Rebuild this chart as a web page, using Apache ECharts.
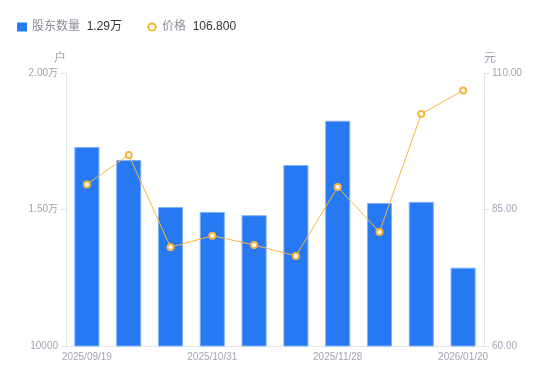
<!DOCTYPE html>
<html><head><meta charset="utf-8">
<script src="https://cdn.jsdelivr.net/npm/echarts@6/dist/echarts.min.js"></script>
<style>html,body{margin:0;padding:0;background:#fff}#c{width:550px;height:381px}</style>
</head><body><div id="c"></div>
<script>
const categories = ['2025/09/19','2025/09/30','2025/10/17','2025/10/31','2025/11/10','2025/11/20','2025/11/28','2025/12/10','2025/12/31','2026/01/20'];
const holders = [17290, 16810, 15090, 14910, 14790, 16630, 18250, 15240, 15280, 12870];
const prices = [89.6, 95.0, 78.1, 80.2, 78.5, 76.5, 89.1, 80.9, 102.5, 106.8];
const leftTicks = {min: 10000, max: 20000, interval: 5000};
const rightTicks = {min: 60, max: 110, interval: 25};

const FONT = '"Liberation Sans", "Noto Sans CJK SC", sans-serif';
const chart = echarts.init(document.getElementById('c'));
const fmtWan = v => v > 10000 ? (v/10000).toFixed(2) + '万' : String(v);
chart.setOption({
  animation: false,
  textStyle: {fontFamily: FONT},
  legend: {
    left: 12, top: 16,
    itemWidth: 10, itemHeight: 9, itemGap: 24,
    data: [{name: '股东数量', icon: 'rect', itemStyle: {borderWidth: 0}}, {name: '价格'}],
    formatter: name => name === '股东数量'
      ? '{a|股东数量}  {b|' + fmtWan(holders[holders.length-1]) + '}'
      : '{a|价格}  {b|' + prices[prices.length-1].toFixed(3) + '}',
    textStyle: {
      fontFamily: FONT,
      rich: {
        a: {color: '#8a8d99', fontSize: 12, fontFamily: FONT},
        b: {color: '#333', fontSize: 12, fontFamily: FONT}
      }
    }
  },
  grid: {left: 66, right: 66, top: 73, bottom: 35},
  xAxis: {
    type: 'category', data: categories,
    axisLine: {lineStyle: {color: '#e3e3e3'}},
    axisTick: {show: false},
    axisLabel: {color: '#a1a5b3', fontSize: 10, interval: 2, margin: 6, fontFamily: FONT}
  },
  yAxis: [{
    type: 'value', name: '户', min: leftTicks.min, max: leftTicks.max, interval: leftTicks.interval,
    nameTextStyle: {color: '#a1a5b3', fontSize: 12, align: 'right'},
    nameGap: 8,
    axisLine: {show: true, lineStyle: {color: '#e3e3e3'}},
    axisTick: {show: true, length: 5, lineStyle: {color: '#e3e3e3'}},
    splitLine: {show: false},
    axisLabel: {color: '#a1a5b3', fontSize: 10, margin: 8, formatter: fmtWan, fontFamily: FONT}
  }, {
    type: 'value', name: '元', min: rightTicks.min, max: rightTicks.max, interval: rightTicks.interval,
    nameTextStyle: {color: '#a1a5b3', fontSize: 12, align: 'left'},
    nameGap: 8,
    axisLine: {show: true, lineStyle: {color: '#e3e3e3'}},
    axisTick: {show: true, length: 5, lineStyle: {color: '#e3e3e3'}},
    splitLine: {show: false},
    axisLabel: {color: '#a1a5b3', fontSize: 10, margin: 8, formatter: v => v.toFixed(2), fontFamily: FONT}
  }],
  series: [{
    name: '股东数量', type: 'bar', data: holders, yAxisIndex: 0, barWidth: '60%',
    itemStyle: {color: '#2778f3', borderColor: '#7fb0fb', borderWidth: 1}
  }, {
    name: '价格', type: 'line', data: prices, yAxisIndex: 1,
    symbol: 'emptyCircle', symbolSize: 6,
    lineStyle: {color: '#f7b53f', width: 1},
    itemStyle: {color: '#f7b53f', borderWidth: 2}
  }]
});
</script></body></html>
